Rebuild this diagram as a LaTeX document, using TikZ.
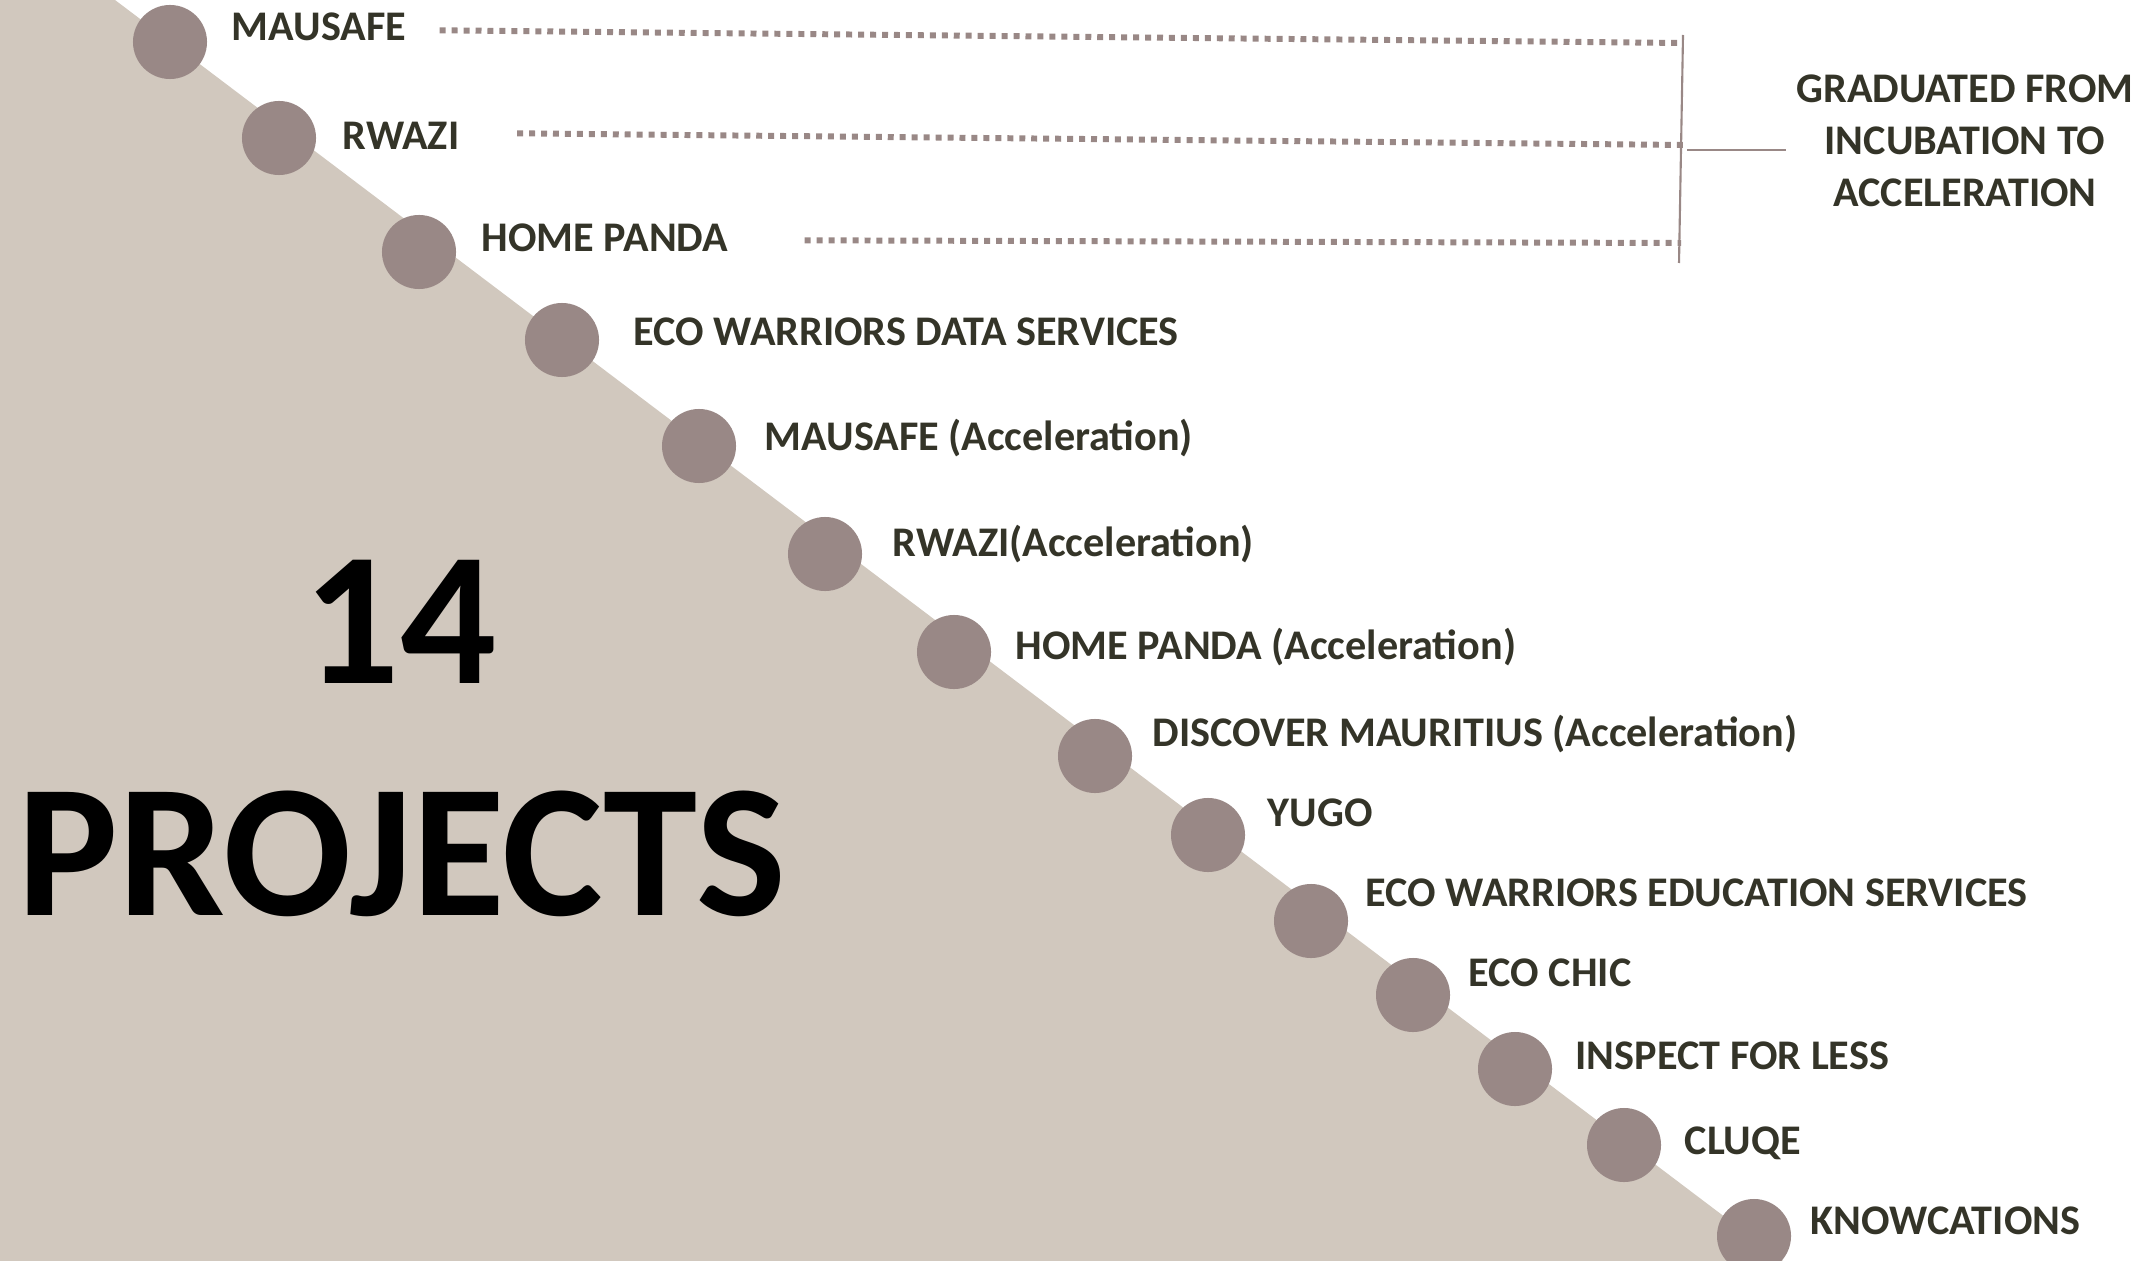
\documentclass[tikz,border=0pt]{standalone}
\usepackage{fontspec}
\setmainfont{Carlito}
\usepackage{tikz}
\usetikzlibrary{calc}
\definecolor{bg-beige}{RGB}{209,200,190}
\definecolor{dot-mauve}{RGB}{153,136,134}
\definecolor{label-dark}{RGB}{52,52,40}
\tikzset{
%%%%%%%%%%  Node styles
dotnode/.style={fill=dot-mauve,circle,minimum size=0.74cm, inner sep=0pt, outer
sep=0},
projlabel/.style={anchor=base west, inner sep=0pt, text=label-dark,
                  font=\fontsize{12}{14}\selectfont\bfseries},
bignum/.style={inner sep=0pt, text=black,
               font=\fontsize{54}{60}\selectfont\bfseries},
gradtext/.style={inner sep=0pt, align=center, text=label-dark,
                 font=\fontsize{12}{14.8}\selectfont\bfseries},
%%%% different line styles:
dotline/.style={draw=dot-mauve, line width=1.7pt, dash pattern=on 1.7pt off 1.7pt},
bracket/.style={draw=dot-mauve, line width=0.6pt}
}

\begin{document}
\begin{tikzpicture}[x=0.01cm,y=-0.01cm]
\useasboundingbox (0,0) rectangle (2152,1261);
%% background triangle
\fill[bg-beige] (0,0) -- (115,0) -- (1783,1261) -- (0,1261) -- cycle;
%% big count
\node[bignum, anchor=base] (num) at (400,683) {14};
\node[bignum, anchor=base] (proj) at (402,915) {PROJECTS};
%%%%%%%%%%%%%%%%%%%%%%%%%%%%%%%%%%%%%%%%%%%%%%%%%%%%%%%
%% dots along the edge
\node[dotnode] (d1) at (170,42) {};
\node[dotnode] (d2) at (279,138) {};
\node[dotnode] (d3) at (419,252) {};
\node[dotnode] (d4) at (562,340) {};
\node[dotnode] (d5) at (699,446) {};
\node[dotnode] (d6) at (825,554) {};
\node[dotnode] (d7) at (954,652) {};
\node[dotnode] (d8) at (1095,756) {};
\node[dotnode] (d9) at (1208,835) {};
\node[dotnode] (d10) at (1311,921) {};
\node[dotnode] (d11) at (1413,995) {};
\node[dotnode] (d12) at (1515,1069) {};
\node[dotnode] (d13) at (1624,1145) {};
\node[dotnode] (d14) at (1754,1236) {};
%% project names
\node[projlabel] (l1) at (231,41) {MAUSAFE};
\node[projlabel] (l2) at (342,150) {RWAZI};
\node[projlabel] (l3) at (481,252) {HOME PANDA};
\node[projlabel] (l4) at (633,346) {ECO WARRIORS DATA SERVICES};
\node[projlabel] (l5) at (764,450) {MAUSAFE (Acceleration)};
\node[projlabel] (l6) at (892,556) {RWAZI(Acceleration)};
\node[projlabel] (l7) at (1015,659) {HOME PANDA (Acceleration)};
\node[projlabel] (l8) at (1152,746) {DISCOVER MAURITIUS (Acceleration)};
\node[projlabel] (l9) at (1267,826) {YUGO};
\node[projlabel] (l10) at (1365,906) {ECO WARRIORS EDUCATION SERVICES};
\node[projlabel] (l11) at (1468,986) {ECO CHIC};
\node[projlabel] (l12) at (1575,1069) {INSPECT FOR LESS};
\node[projlabel] (l13) at (1684,1154) {CLUQE};
\node[projlabel] (l14) at (1810,1234) {KNOWCATIONS};
%%%%%%%%%%%%%%%%%%%%%%%%%%%%%%%%%%%%%%%%%%%%%%%%%%%%%%%
%% bracket for the graduated ones
\coordinate (b1) at (1683,43);
\coordinate (b2) at (1683,145);
\coordinate (b3) at (1681,243);
\coordinate (btop) at (1683,35);
\coordinate (bbot) at (1679,263);
\coordinate (bmid) at (1687,150);
\draw[dotline] ($(l1.east)+(33,3)$) -- (b1);
\draw[dotline] ($(l2.east)+(57,-3)$) -- (b2);
\draw[dotline] ($(l3.east)+(76,2)$) -- (b3);
\draw[bracket] (btop) -- (bbot);
\node[gradtext] (grad) at (1965,141) {GRADUATED FROM\\INCUBATION TO\\ACCELERATION};
\draw[bracket] (bmid) -- ([xshift=-0.1cm]bmid -| grad.west);
\end{tikzpicture}
\end{document}
